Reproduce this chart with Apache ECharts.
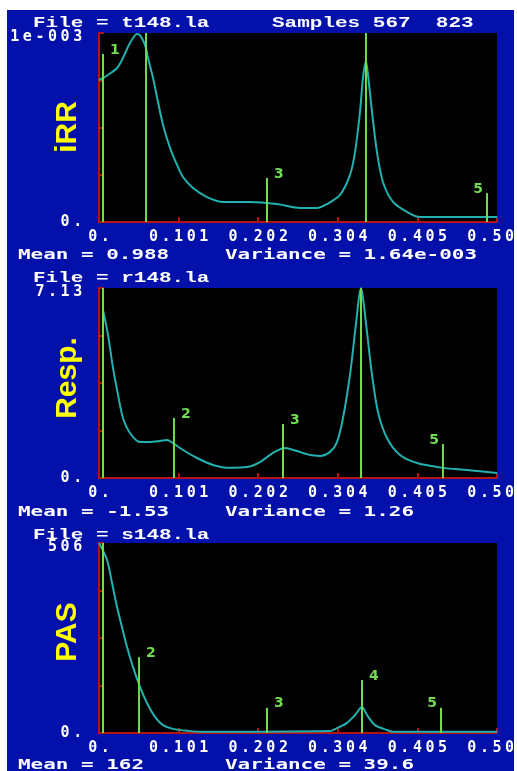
<!DOCTYPE html>
<html><head><meta charset="utf-8">
<script src="https://cdn.jsdelivr.net/npm/echarts@6/dist/echarts.min.js"></script>
<style>html,body{margin:0;padding:0;background:#fff;}#c{width:517px;height:771px;}</style>
</head><body><div id="c"></div>
<script>
// ---------- data ----------
const xTickLabels = ['0.', '0.101', '0.202', '0.304', '0.405', '0.506'];
const xMax = 0.506;
const xStep = 0.1012;
const markLabels = ['1', '2', '3', '4', '5'];

// iRR panel
const irrYMax = 0.001;
const irrYLabels = ['0.', '1e-003'];
const irrX = [0.000,0.0051,0.0114,0.0229,0.0305,0.0394,0.0483,0.0521,0.0585,0.0623,0.0687,0.0750,0.0814,0.0903,0.0992,0.1068,0.1195,0.1373,0.1576,0.1920,0.2263,0.2555,0.2771,0.2899,0.3064,0.3191,0.3255,0.3318,0.3356,0.3394,0.3420,0.3471,0.3534,0.3610,0.3738,0.3916,0.4081,0.506];
const irrY = [0.000751,0.000762,0.000778,0.000815,0.000868,0.000947,0.000995,0.000989,0.000937,0.000868,0.000762,0.000635,0.000513,0.000392,0.000302,0.000238,0.000180,0.000132,0.000106,0.000106,0.000095,0.000074,0.000074,0.000095,0.000143,0.000249,0.000370,0.000582,0.000762,0.000850,0.000778,0.000582,0.000370,0.000212,0.000106,0.000053,0.000026,0.000026];
const irrMarkX = [0.0051, 0.0598, 0.2136, 0.3394, 0.4933];
const irrMarkH = [0.000889, 0.00105, 0.000233, 0.00105, 0.000153];

// Resp. panel
const respYMax = 7.13;
const respYLabels = ['0.', '7.13'];
const respX = [0.0051,0.0114,0.0178,0.0242,0.0305,0.0394,0.0521,0.0648,0.0775,0.0864,0.0941,0.1068,0.1246,0.1449,0.1665,0.1882,0.2047,0.2212,0.2365,0.2517,0.2682,0.2810,0.2937,0.3026,0.3102,0.3191,0.3255,0.3305,0.3331,0.3356,0.3407,0.3471,0.3547,0.3661,0.3827,0.4043,0.4373,0.4678,0.506];
const respY = [6.31,5.37,4.13,3.12,2.25,1.69,1.35,1.35,1.39,1.43,1.31,1.05,0.75,0.49,0.38,0.41,0.60,0.94,1.13,1.01,0.86,0.83,0.98,1.35,2.25,3.87,5.48,6.76,7.13,6.76,5.48,3.87,2.48,1.50,0.86,0.56,0.38,0.30,0.19];
const respMarkX = [0.0051, 0.0953, 0.2339, 0.3331, 0.4373];
const respMarkH = [7.5, 2.25, 2.03, 7.5, 1.28];

// PAS panel
const pasYMax = 506;
const pasYLabels = ['0.', '506'];
const pasX = [0.0,0.0102,0.0165,0.0229,0.0292,0.0356,0.0432,0.0521,0.0610,0.0712,0.0814,0.0941,0.1157,0.1300,0.2937,0.3026,0.3153,0.3255,0.3344,0.3407,0.3509,0.3661,0.3738,0.506];
const pasY = [506,461,400,336,282,229,176,123,80,43,21,11,5,3,5,13,27,48,69,48,21,8,3,3];
const pasMarkX = [0.0051, 0.0509, 0.2136, 0.3344, 0.4348];
const pasMarkH = [530, 202, 67, 141, 67];

// texts
const fileNames = ['File = t148.la', 'File = r148.la', 'File = s148.la'];
const samplesText = 'Samples 567  823';
const meanTexts = ['Mean = 0.988', 'Mean = -1.53', 'Mean = 162'];
const varTexts = ['Variance = 1.64e-003', 'Variance = 1.26', 'Variance = 39.6'];
const panelNames = ['iRR', 'Resp.', 'PAS'];

// ---------- styling / layout ----------
const BLUE = '#0410aa', RED = '#b41414', CYAN = '#22b0b0', GREEN = '#72dc50';
const panels = [
  {x: irrX, y: irrY, mx: irrMarkX, mh: irrMarkH, yMax: irrYMax, yLabels: irrYLabels, top: 33, h: 189},
  {x: respX, y: respY, mx: respMarkX, mh: respMarkH, yMax: respYMax, yLabels: respYLabels, top: 288, h: 190},
  {x: pasX, y: pasY, mx: pasMarkX, mh: pasMarkH, yMax: pasYMax, yLabels: pasYLabels, top: 543, h: 190}
];

function cells(str, st) {
  return str.split('').map(ch => '{' + st + '|' + ch + '}').join('');
}
const cellBase = {width: 12.6, align: 'center', fontFamily: 'DejaVu Sans Mono', fontWeight: 'bold', fontSize: 15, color: '#fff', lineHeight: 14};
const rich = {c: cellBase, t: Object.assign({}, cellBase, {padding: [9, 0, 0, 0]})};

const chart = echarts.init(document.getElementById('c'), null, {renderer: 'canvas'});

const option = {
  backgroundColor: '#fff',
  animation: false,
  grid: panels.map(p => ({left: 99, width: 398, top: p.top, height: p.h, show: true, backgroundColor: '#000', borderWidth: 0,
    containLabel: false, outerBoundsMode: 'none'})),
  xAxis: panels.map((p, i) => ({
    gridIndex: i, type: 'value', min: 0, max: xMax, interval: xStep,
    axisLine: {show: true, onZero: false, lineStyle: {color: RED, width: 2}},
    axisTick: {show: true, inside: true, length: 5, lineStyle: {color: RED, width: 2}},
    splitLine: {show: false},
    axisLabel: {margin: 8, rich: rich, hideOverlap: false, formatter: v => {
      const k = Math.round(v / xStep);
      return xTickLabels[k] !== undefined ? cells(xTickLabels[k], 'c') : '';
    }}
  })),
  yAxis: panels.map((p, i) => ({
    gridIndex: i, type: 'value', min: 0, max: p.yMax, interval: p.yMax / 4,
    axisLine: {show: true, onZero: false, lineStyle: {color: RED, width: 2}},
    axisTick: {show: true, inside: true, length: 5, lineStyle: {color: RED, width: 2}},
    splitLine: {show: false},
    axisLabel: {margin: 15, rich: rich, formatter: v => {
      const k = Math.round(v / (p.yMax / 4));
      if (k === 0) return cells(p.yLabels[0], 'c');
      if (k === 4) return cells(p.yLabels[1], 't');
      return '';
    }}
  })),
  series: [],
  graphic: {elements: []}
};

panels.forEach((p, i) => {
  option.series.push({
    type: 'line', xAxisIndex: i, yAxisIndex: i, z: 2,
    data: p.x.map((x, k) => [x, p.y[k]]),
    showSymbol: false, smooth: 0.3, clip: true,
    lineStyle: {color: CYAN, width: 2}
  });
  option.series.push({
    type: 'custom', xAxisIndex: i, yAxisIndex: i, z: 3, clip: true,
    data: p.mx.map((x, k) => [x, p.mh[k]]),
    renderItem: function (params, api) {
      const x = api.value(0), h = api.value(1);
      const p0 = api.coord([x, 0]), p1 = api.coord([x, h]);
      const left = x > xMax * 0.8;
      return {type: 'group', children: [
        {type: 'line', shape: {x1: p0[0], y1: p0[1], x2: p1[0], y2: p1[1]}, style: {stroke: GREEN, lineWidth: 2}},
        {type: 'text', x: p1[0] + (left ? -4 : 7), y: p1[1] - 4,
          style: {text: markLabels[params.dataIndex], fill: GREEN, font: 'bold 14px "DejaVu Sans"',
            align: left ? 'right' : 'left', verticalAlign: 'middle',
            textAlign: left ? 'right' : 'left', textVerticalAlign: 'middle'}}
      ]};
    }
  });
});

const G = option.graphic.elements;
G.push({type: 'rect', z: -100, shape: {x: 7, y: 10, width: 507, height: 761}, style: {fill: BLUE}});
function txt(x, y, s, family, size, sx) {
  return {type: 'text', x: x, y: y, scaleX: sx, z: 100,
    style: {text: s, fill: '#fff', font: 'bold ' + size + 'px "' + family + '"',
      align: 'left', verticalAlign: 'middle', textAlign: 'left', textVerticalAlign: 'middle'}};
}
const titleY = [23, 278, 535];
const meanY = [255, 512, 765];
const nameY = [127, 378, 632];
for (let i = 0; i < 3; i++) {
  G.push(txt(33, titleY[i], fileNames[i], 'Liberation Mono', 15, 1.4));
  G.push(txt(18, meanY[i], meanTexts[i], 'DejaVu Sans Mono', 14, 1.495));
  G.push(txt(225, meanY[i], varTexts[i], 'DejaVu Sans Mono', 14, 1.495));
  G.push({type: 'text', x: 68, y: nameY[i], rotation: Math.PI / 2, z: 100,
    style: {text: panelNames[i], fill: '#ffff00', font: 'bold 30px "Liberation Sans"',
      align: 'center', verticalAlign: 'middle', textAlign: 'center', textVerticalAlign: 'middle'}});
}
G.push(txt(272, titleY[0], samplesText, 'Liberation Mono', 15, 1.4));

chart.setOption(option);
</script>
</body></html>
